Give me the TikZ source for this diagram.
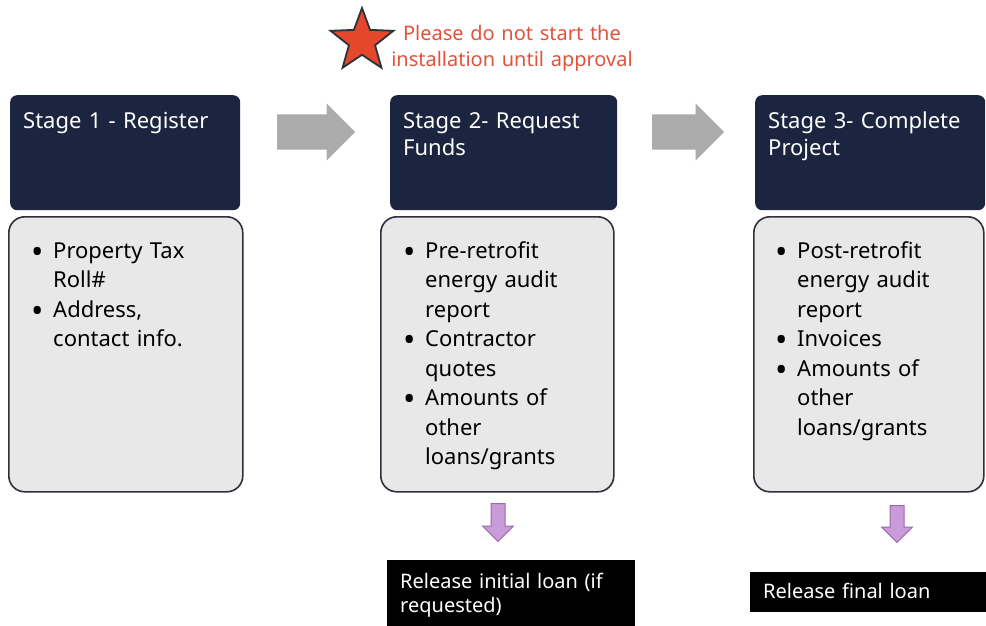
\documentclass[tikz,border=0pt]{standalone}
\usepackage{fontspec}
\setmainfont{Noto Sans}
\usetikzlibrary{shapes.geometric,shapes.arrows,positioning}

\definecolor{navy}{HTML}{1B2540}
\definecolor{panel}{HTML}{E8E8E8}
\definecolor{rim}{HTML}{2C313C}
\definecolor{arrowgray}{HTML}{ABABAB}
\definecolor{lilac}{HTML}{C99BD8}
\definecolor{plum}{HTML}{9A68AE}
\definecolor{starred}{HTML}{E4472B}
\definecolor{warnred}{HTML}{E0533B}

% bullet point with hanging indent
\newcommand\stagepoint[1]{\hangindent=22pt\hangafter=1\makebox[22pt][l]{\raisebox{-5pt}[0pt][0pt]{\scalebox{1.5}{\textbullet}}}#1\par}

\begin{document}
\begin{tikzpicture}[x=1pt,y=-1pt,
    every node/.style={inner sep=0pt},
    headbox/.style={fill=navy,rounded corners=7pt,minimum width=230pt,minimum height=115pt,anchor=north west},
    bodybox/.style={fill=panel,draw=rim,line width=1.6pt,rounded corners=16pt,minimum width=232pt,minimum height=275pt,anchor=north west},
    headtext/.style={text=white,font=\fontsize{22}{27.5}\selectfont,text width=220pt,align=left,anchor=base west},
    bodytext/.style={font=\fontsize{22}{29.5}\selectfont,text width=205pt,align=left,anchor=base west},
    nextarrow/.style={single arrow,anchor=tail,fill=arrowgray,inner xsep=0pt,inner ysep=17.5pt,minimum width=57pt,single arrow head extend=11pt},
    loanarrow/.style={single arrow,rotate=-90,anchor=tail,fill=lilac,draw=plum,line width=1pt,inner xsep=0pt,inner ysep=6.5pt,minimum height=38pt,minimum width=30pt,single arrow head extend=8.5pt},
    loanbox/.style={fill=black,anchor=north west},
    loantext/.style={text=white,font=\fontsize{20}{24.5}\selectfont,text width=230pt,align=left,anchor=base west}
  ]
  \useasboundingbox (0,0) rectangle (986,625);

  % warning
  \node[star,star points=5,star point ratio=2.4,minimum size=66pt,fill=starred,draw=rim,line width=1.8pt] (warn) at (362,41) {};
  \node[text=warnred,font=\fontsize{20}{26}\selectfont,text width=260pt,align=center,anchor=base] (warntext) at (512,40) {Please do not start the\\installation until approval};

  % stage headers
  \node[headbox] (head1) at (10,95) {};
  \node[headbox,minimum width=227pt] (head2) at (390,95) {};
  \node[headbox] (head3) at (755,95) {};
  \node[headtext] (head1txt) at (23,128) {Stage 1 - Register};
  \node[headtext] (head2txt) at (403,128) {Stage 2- Request\\Funds};
  \node[headtext] (head3txt) at (768,128) {Stage 3- Complete\\Project};

  % stage contents
  \node[bodybox,minimum width=234pt] (body1) at (8,216) {};
  \node[bodybox,minimum width=233pt] (body2) at (380,216) {};
  \node[bodybox,minimum width=230pt] (body3) at (753,216) {};
  \node[bodytext] (body1txt) at (31,258) {%
    \stagepoint{Property Tax\newline Roll\#}%
    \stagepoint{Address,\newline contact info.}};
  \node[bodytext] (body2txt) at (403,258) {%
    \stagepoint{Pre-retrofit\newline energy audit\newline report}%
    \stagepoint{Contractor\newline quotes}%
    \stagepoint{Amounts of\newline other\newline loans/grants}};
  \node[bodytext] (body3txt) at (775,258) {%
    \stagepoint{Post-retrofit\newline energy audit\newline report}%
    \stagepoint{Invoices}%
    \stagepoint{Amounts of\newline other\newline loans/grants}};

  % arrows between stages
  \node[nextarrow,minimum height=78pt] (go1) at (277,132) {};
  \node[nextarrow,minimum height=72pt] (go2) at (652,132) {};

  % loan releases
  \node[loanarrow] (drop1) at (498,503) {};
  \node[loanarrow,minimum height=37pt] (drop2) at (897,505) {};
  \node[loanbox,minimum width=248pt,minimum height=66pt] (loan1) at (387,560) {};
  \node[loanbox,minimum width=236pt,minimum height=40pt] (loan2) at (750,572) {};
  \node[loantext] (loan1txt) at (400,588) {Release initial loan (if\\requested)};
  \node[loantext] (loan2txt) at (763,598) {Release final loan};
\end{tikzpicture}
\end{document}
